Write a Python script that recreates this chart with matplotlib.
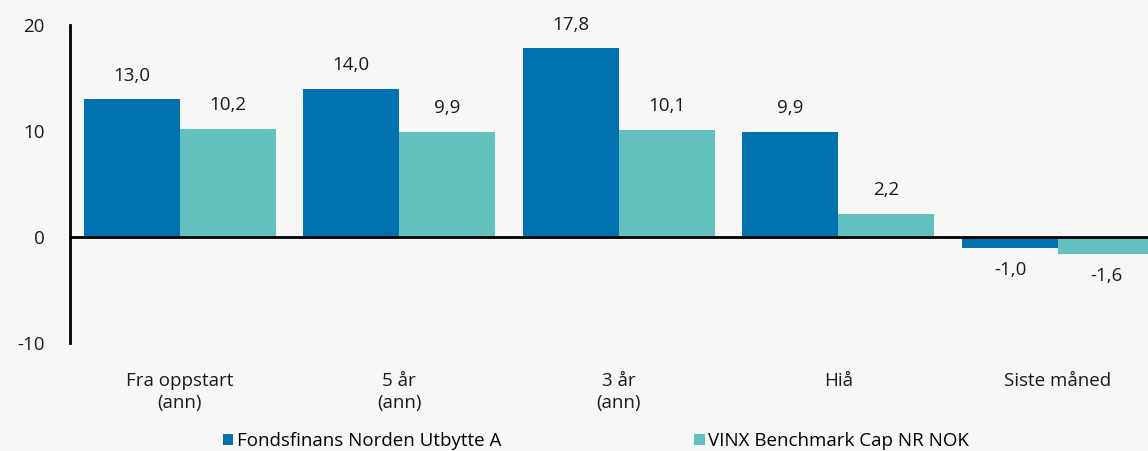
import matplotlib
matplotlib.use("Agg")
import matplotlib.pyplot as plt
import numpy as np
from matplotlib.patches import Patch

categories = ["Fra oppstart\n(ann)", "5 år\n(ann)", "3 år\n(ann)", "Hiå", "Siste måned"]
fund = [13.0, 14.0, 17.8, 9.9, -1.0]
bench = [10.2, 9.9, 10.1, 2.2, -1.6]
series_names = ["Fondsfinans Norden Utbytte A", "VINX Benchmark Cap NR NOK"]
colors = ["#0072b0", "#62c1bf"]
bg = "#f7f7f7"

plt.rcParams['font.family'] = ['Open Sans', 'DejaVu Sans']
fs = 13.5

W, H = 1148, 451
fig = plt.figure(figsize=(W/100, H/100), dpi=100, facecolor=bg)
ax = fig.add_axes([70/W, 1-343/H, (W-70)/W, (343-25)/H])
ax.set_facecolor(bg)

x = np.arange(len(categories))
bw = 96/219.5
b1 = ax.bar(x - bw/2, fund, bw, color=colors[0], zorder=2)
b2 = ax.bar(x + bw/2, bench, bw, color=colors[1], zorder=2)

for bars in (b1, b2):
    for r in bars:
        v = r.get_height()
        xc = r.get_x() + r.get_width()/2
        off = 17 if v >= 0 else -16
        ax.annotate(f"{v:.1f}".replace(".", ","), (xc, v), xytext=(0, off),
                    textcoords="offset points", ha="center", va="center", fontsize=fs, color="#1a1a1a")

ax.set_xlim(-0.5, 4 + (1148-1058)/219.5)
ax.set_ylim(-10, 20)
ax.set_yticks([-10, 0, 10, 20])
ax.set_yticklabels(["-10", "0", "10", "20"], fontsize=fs, color="#1a1a1a")
ax.tick_params(axis="y", length=0, pad=18)
ax.set_xticks(x)
ax.set_xticklabels(categories, fontsize=fs, color="#1a1a1a", linespacing=1.25)
ax.tick_params(axis="x", length=0, pad=21)
for s in ["top", "right", "bottom"]:
    ax.spines[s].set_visible(False)
ax.spines["left"].set_linewidth(2)
ax.spines["left"].set_color("black")
ax.axhline(0, color="black", lw=2, zorder=3)

handles = [Patch(facecolor=c) for c in colors]
fig.legend(handles, series_names, loc="center", bbox_to_anchor=(596/W, 1-441/H),
           ncol=2, frameon=False, fontsize=fs, handlelength=0.55, handleheight=0.55,
           handletextpad=0.2, columnspacing=10.3)

fig.savefig("out.png", dpi=100, facecolor=bg)
